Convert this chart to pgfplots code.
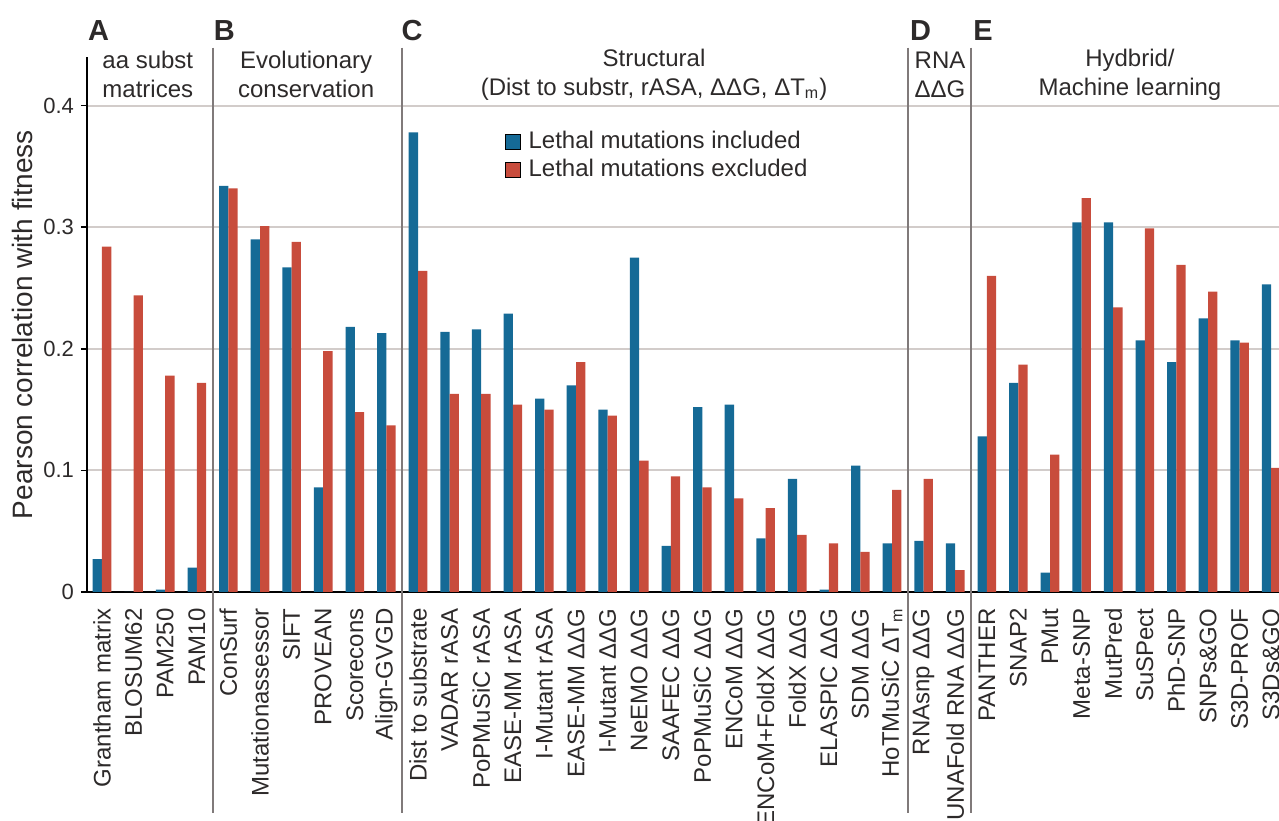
\documentclass[border=0pt]{standalone}
\usepackage{fontspec}
\setmainfont{Liberation Sans}
\usepackage{pgfplots}
\pgfplotsset{compat=1.18}
\usepackage{pgfplotstable}

\definecolor{incl}{RGB}{21,106,150}
\definecolor{excl}{RGB}{200,76,60}
\definecolor{gridc}{RGB}{210,204,202}
\definecolor{sepc}{RGB}{128,122,122}
\definecolor{txt}{RGB}{45,42,42}

\pgfplotsset{sqlegend/.style={legend image code/.code={%
  \draw[##1] (0pt,-3.75pt) rectangle (7.5pt,3.75pt);
  \path (10pt,0pt);}}}

% Pearson correlation with fitness, per predictor
\pgfplotstableread{
idx incl excl
0  0.027 0.284
1  0.000 0.244
2  0.002 0.178
3  0.020 0.172
4  0.334 0.332
5  0.290 0.301
6  0.267 0.288
7  0.086 0.198
8  0.218 0.148
9  0.213 0.137
10 0.378 0.264
11 0.214 0.163
12 0.216 0.163
13 0.229 0.154
14 0.159 0.150
15 0.170 0.189
16 0.150 0.145
17 0.275 0.108
18 0.038 0.095
19 0.152 0.086
20 0.154 0.077
21 0.044 0.069
22 0.093 0.047
23 0.002 0.040
24 0.104 0.033
25 0.040 0.084
26 0.042 0.093
27 0.040 0.018
28 0.128 0.260
29 0.172 0.187
30 0.016 0.113
31 0.304 0.324
32 0.304 0.234
33 0.207 0.299
34 0.189 0.269
35 0.225 0.247
36 0.207 0.205
37 0.253 0.102
}\fitness

\begin{document}
\begin{tikzpicture}[text=txt, font=\fontsize{12}{14.5}\selectfont]
\begin{axis}[
  scale only axis,
  width=596pt, height=267.5pt,
  xmin=-0.4747, xmax=37.247,
  ymin=0, ymax=0.44,
  axis x line*=bottom, axis y line*=left,
  axis line style={black, line width=1pt},
  clip mode=individual,
  ybar=0pt, bar width=4.65pt,
  xtick={0,...,37},
  xticklabels={Grantham matrix, BLOSUM62, PAM250, PAM10,
    ConSurf, Mutationassessor, SIFT, PROVEAN, Scorecons, Align-GVGD,
    Dist to substrate, VADAR rASA, PoPMuSiC rASA, EASE-MM rASA, I-Mutant rASA,
    EASE-MM ΔΔG, I-Mutant ΔΔG, NeEMO ΔΔG, SAAFEC ΔΔG, PoPMuSiC ΔΔG, ENCoM ΔΔG,
    ENCoM+FoldX ΔΔG, FoldX ΔΔG, ELASPIC ΔΔG, SDM ΔΔG, HoTMuSiC ΔT\textsubscript{m},
    RNAsnp ΔΔG, UNAFold RNA ΔΔG,
    PANTHER, SNAP2, PMut, Meta-SNP, MutPred, SuSPect, PhD-SNP, SNPs\&GO, S3D-PROF, S3Ds\&GO},
  xtick style={draw=none},
  xticklabel style={rotate=90, anchor=east, inner sep=0pt, font=\fontsize{12}{14}\selectfont},
  xticklabel shift=5pt,
  ytick={0,0.1,0.2,0.3,0.4},
  yticklabel style={font=\fontsize{11}{13}\selectfont},
  /pgf/number format/assume math mode=true,
  tick align=outside, major tick length=3pt,
  ytick style={black, line width=0.8pt},
  ymajorgrids, grid style={gridc, line width=1pt},
  ylabel={Pearson correlation with fitness},
  ylabel style={at={(axis description cs:-0.0545,0.5)}, anchor=center, font=\fontsize{14}{16}\selectfont},
  legend style={draw=none, fill=none, at={(axis description cs:0.3505,0.868)}, anchor=north west,
    font=\fontsize{12}{14}\selectfont, inner sep=0pt, row sep=0pt,
    nodes={inner sep=1.5pt, text height=8.5pt, text depth=2.5pt}},
  legend cell align=left,
]
\addplot[fill=incl, draw=none, sqlegend] table[x=idx, y=incl] {\fitness};
\addplot[fill=excl, draw=none, sqlegend] table[x=idx, y=excl] {\fitness};
\legend{Lethal mutations included, Lethal mutations excluded}

% group separators
\draw[sepc, line width=1pt] (axis cs:3.5,0.4477) -- (axis cs:3.5,-0.182);
\draw[sepc, line width=1pt] (axis cs:9.5,0.4477) -- (axis cs:9.5,-0.182);
\draw[sepc, line width=1pt] (axis cs:25.5,0.4477) -- (axis cs:25.5,-0.182);
\draw[sepc, line width=1pt] (axis cs:27.5,0.4477) -- (axis cs:27.5,-0.182);

% panel letters
\begin{scope}[every node/.style={anchor=west, inner sep=0pt, font=\bfseries\fontsize{14.5}{16}\selectfont}]
  \node at (axis cs:-0.45,0.4620) {A};
  \node at (axis cs:3.53,0.4620) {B};
  \node at (axis cs:9.47,0.4620) {C};
  \node at (axis cs:25.56,0.4620) {D};
  \node at (axis cs:27.56,0.4620) {E};
\end{scope}

% group headings
\begin{scope}[every node/.style={align=center, inner sep=0pt}]
  \node at (axis cs:1.45,0.4255) {aa subst\\matrices};
  \node at (axis cs:6.46,0.4255) {Evolutionary\\conservation};
  \node at (axis cs:17.47,0.4255) {Structural\\(Dist to substr, rASA, ΔΔG, ΔT\textsubscript{m})};
  \node at (axis cs:26.52,0.4255) {RNA\\ΔΔG};
  \node at (axis cs:32.53,0.4255) {Hydbrid/\\Machine learning};
\end{scope}
\end{axis}
\pgfresetboundingbox
\path ([xshift=-43.5pt,yshift=-114.5pt]current axis.south west) rectangle ([yshift=28.5pt]current axis.north east);
\end{tikzpicture}
\end{document}
